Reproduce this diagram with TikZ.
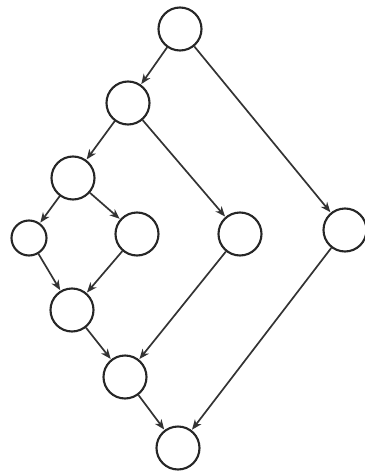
\documentclass[tikz,border=0pt]{standalone}
\usetikzlibrary{arrows.meta}
\begin{document}
\begin{tikzpicture}[x=1pt,y=-1pt,
  vtx/.style={circle,draw=black!85,line width=2.1pt,minimum size=43pt,inner sep=0pt},
  small/.style={vtx,minimum size=35pt},
  arr/.style={draw=black!80,line width=1.7pt,-{Stealth[length=10pt,width=8pt,inset=3pt]},shorten >=0.5pt}]
\useasboundingbox (0,0) rectangle (364,471);
\node[vtx] (a) at (180,29) {};
\node[vtx] (b) at (128,103) {};
\node[vtx] (c) at (73,178) {};
\node[small] (d) at (29,238) {};
\node[vtx] (e) at (137,234) {};
\node[vtx] (f) at (240,234) {};
\node[vtx] (g) at (345,230) {};
\node[vtx] (h) at (72,310) {};
\node[vtx] (i) at (125,377) {};
\node[vtx] (j) at (178,448) {};
\draw[arr] (a) -- (b);
\draw[arr] (a) -- (g);
\draw[arr] (b) -- (c);
\draw[arr] (b) -- (f);
\draw[arr] (c) -- (d);
\draw[arr] (c) -- (e);
\draw[arr] (d) -- (h);
\draw[arr] (e) -- (h);
\draw[arr] (h) -- (i);
\draw[arr] (f) -- (i);
\draw[arr] (i) -- (j);
\draw[arr] (g) -- (j);
\end{tikzpicture}
\end{document}
